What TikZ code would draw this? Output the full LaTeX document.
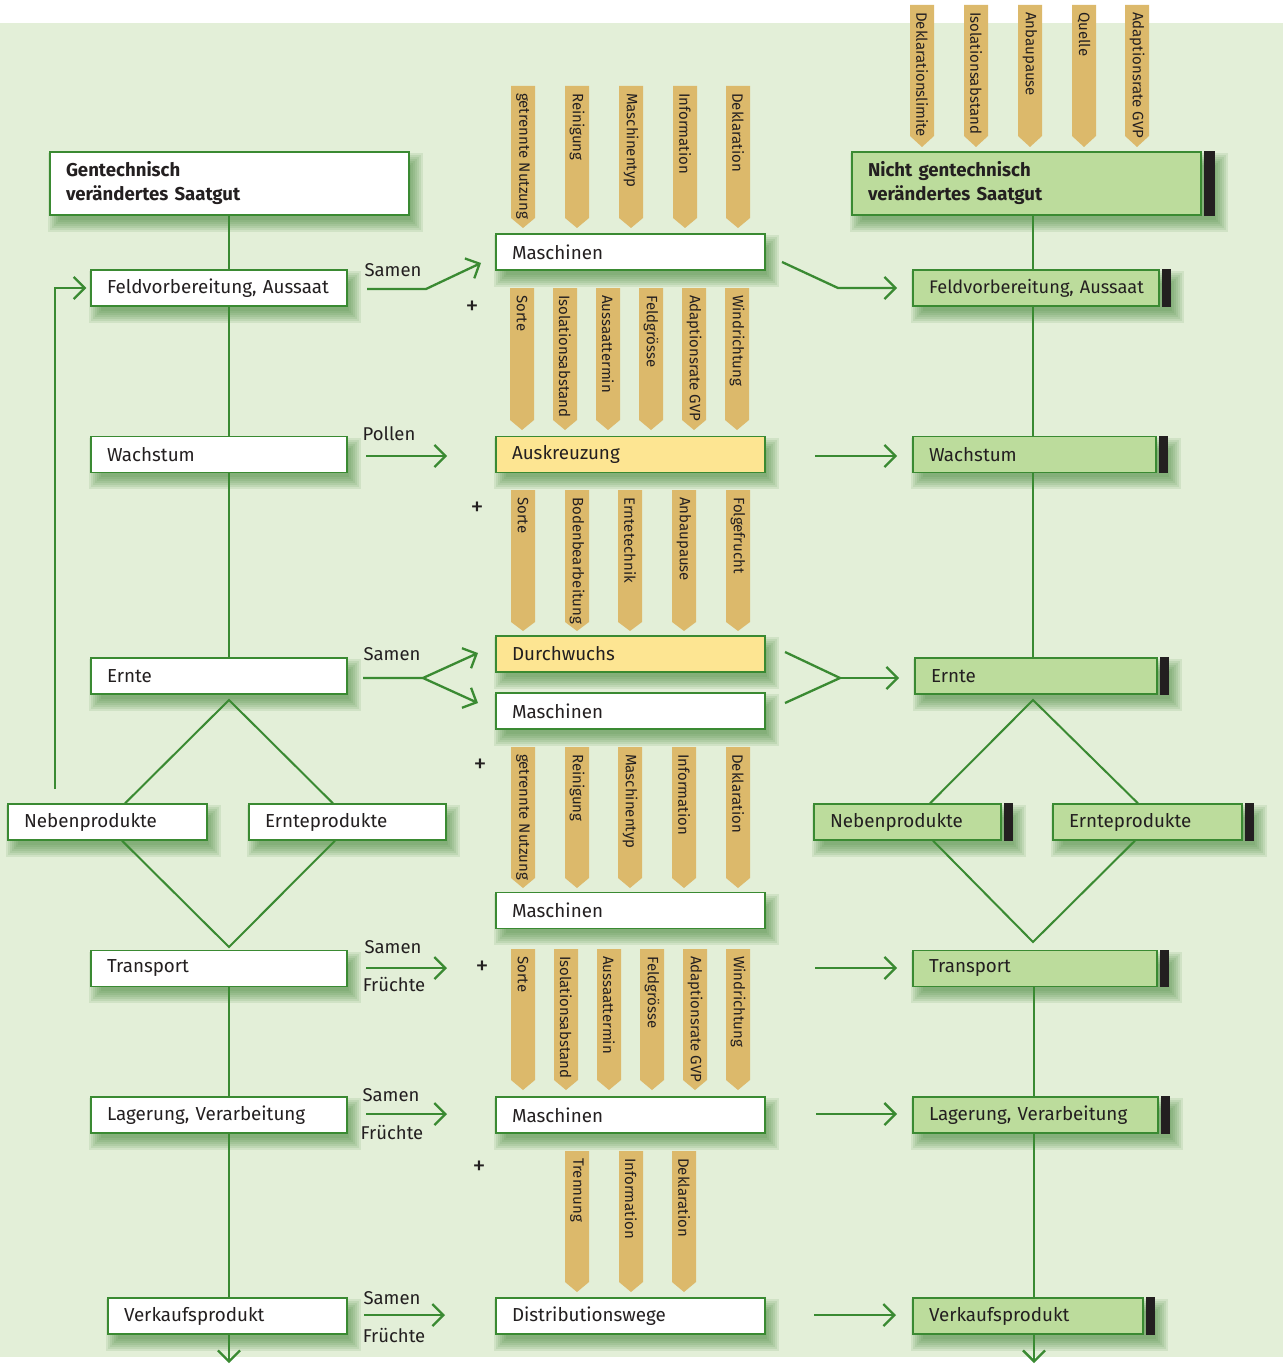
\documentclass[tikz,border=0pt]{standalone}
\usepackage{fontspec}
\setmainfont{Fira Sans}
\usetikzlibrary{arrows.meta}
\definecolor{bggreen}{HTML}{E3EFD8}
\definecolor{lgreen}{HTML}{3A8A32}
\definecolor{boxgreen}{HTML}{BCDC9C}
\definecolor{yel}{HTML}{FDE592}
\definecolor{gold}{HTML}{DCB96B}
\definecolor{ink}{HTML}{231F20}
\definecolor{shgreen}{HTML}{3C7F33}
\pgfdeclarelayer{bglayer}
\pgfdeclarelayer{shlayer}
\pgfsetlayers{bglayer,shlayer,main}
\newcommand\tagshape[6]{% name, x, top, body bottom, tip, text
  \fill[gold] (#2-12,#3) -- (#2+12,#3) -- (#2+12,#4) -- (#2,#5) -- (#2-12,#4) -- cycle;
  \node[tagtext] (#1) at (#2,#3+7) {#6};
}
\begin{document}
\begin{tikzpicture}[x=1pt,y=-1pt,
  font=\fontsize{18.5}{21}\selectfont,
  box/.style={draw=lgreen, line width=1.3pt, inner xsep=16pt, inner ysep=0pt,
    minimum height=36pt, text=ink, align=left, font=\fontsize{18.8}{21}\selectfont},
  bw/.style={minimum width=#1pt, text width=#1pt-32pt},
  wbox/.style={box, fill=white},
  gbox/.style={box, fill=boxgreen},
  ybox/.style={box, fill=yel},
  title/.style={font=\bfseries\fontsize{18.6}{24}\selectfont, minimum height=63pt},
  conn/.style={draw=lgreen, line width=2.3pt},
  arr/.style={conn, -{Straight Barb[length=11pt,width=22pt]}},
  lab/.style={text=ink, inner sep=0pt},
  plussign/.style={text=ink, inner sep=0pt, font=\fontsize{26}{26}\selectfont},
  tagtext/.style={rotate=-90, anchor=west, inner sep=0pt, text=ink,
    font=\fontsize{15}{16}\selectfont},
  bar/.style={fill=ink}
]
\useasboundingbox (0,0) rectangle (1283,1364);
\begin{pgfonlayer}{bglayer}
  \fill[white] (0,0) rectangle (1283,1364);
  \fill[bggreen] (0,23) rectangle (1283,1357);
\end{pgfonlayer}

% ---------------- left column
\node[wbox, bw=359, title] (gv) at (229.5,183.5) {Gentechnisch\\verändertes Saatgut};
\node[wbox, bw=256] (lf) at (219,288) {Feldvorbereitung, Aussaat};
\node[wbox, bw=256] (lw) at (219,454.5) {Wachstum};
\node[wbox, bw=256] (le) at (219,676) {Ernte};
\node[wbox, bw=199] (ln) at (107.5,822) {Nebenprodukte};
\node[wbox, bw=197] (lp) at (347.5,822) {Ernteprodukte};
\node[wbox, bw=256] (lt) at (219,968.5) {Transport};
\node[wbox, bw=256] (ll) at (219,1115) {Lagerung, Verarbeitung};
\node[wbox, bw=239] (lv) at (227.5,1316) {Verkaufsprodukt};

% ---------------- middle column
\node[wbox, bw=269] (m1) at (630.5,252) {Maschinen};
\node[ybox, bw=269] (au) at (630.5,454.5) {Auskreuzung};
\node[ybox, bw=269] (du) at (630.5,654) {Durchwuchs};
\node[wbox, bw=269] (m2) at (630.5,711) {Maschinen};
\node[wbox, bw=269] (m3) at (630.5,910.5) {Maschinen};
\node[wbox, bw=269] (m4) at (630.5,1115) {Maschinen};
\node[wbox, bw=269] (dw) at (630.5,1316) {Distributionswege};

% ---------------- right column
\node[gbox, bw=349, title] (rg) at (1026.5,183.5) {Nicht gentechnisch\\verändertes Saatgut};
\node[gbox, bw=246, font=\fontsize{18.2}{21}\selectfont] (rf) at (1036,288) {\mbox{Feldvorbereitung, Aussaat}};
\node[gbox, bw=243] (rw) at (1034.5,454.5) {Wachstum};
\node[gbox, bw=242] (re) at (1036,676) {Ernte};
\node[gbox, bw=187] (rn) at (907.5,822) {Nebenprodukte};
\node[gbox, bw=189] (rp) at (1147.5,822) {Ernteprodukte};
\node[gbox, bw=244] (rt) at (1035,968.5) {Transport};
\node[gbox, bw=245] (rl) at (1035.5,1115) {Lagerung, Verarbeitung};
\node[gbox, bw=230] (rv) at (1028,1316) {Verkaufsprodukt};

\fill[bar] ([xshift=2pt]rg.north east) rectangle ([xshift=13pt]rg.south east);
\foreach \n in {rf,rw,re,rn,rp,rt,rl,rv}{
  \fill[bar] ([xshift=2pt]\n.north east) rectangle ([xshift=11pt]\n.south east);
}

% ---------------- shadows
\begin{pgfonlayer}{shlayer}
\foreach \n/\ex in {gv/0,lf/0,lw/0,le/0,ln/0,lp/0,lt/0,ll/0,lv/0,m1/0,au/0,du/0,m2/0,m3/0,m4/0,dw/0,
                    rg/13,rf/11,rw/11,re/11,rn/11,rp/11,rt/11,rl/11,rv/11}{
  \foreach \e in {7,5,3,1,-1,-3,-5}{
    \fill[shgreen, opacity=0.11] ([shift={(6-\e,9-\e)}]\n.north west)
      rectangle ([shift={(6+\e+\ex,9+\e)}]\n.south east);
  }
}
\end{pgfonlayer}

% ---------------- tags
\foreach \x/\t in {922/Deklarationslimite,976/Isolationsabstand,1030/Anbaupause,1084/Quelle,1137/Adaptionsrate GVP}
  {\tagshape{ta\x}{\x}{5}{136}{147}{\t}}
\foreach \x/\t in {523/getrennte Nutzung,577/Reinigung,631/Maschinentyp,685/Information,738/Deklaration}
  {\tagshape{tb\x}{\x}{86}{218}{228}{\t}}
\foreach \x/\t in {522/Sorte,565/Isolationsabstand,608/Aussaattermin,651/Feldgrösse,694/Adaptionsrate GVP,737/Windrichtung}
  {\tagshape{tc\x}{\x}{288}{420}{430}{\t}}
\foreach \x/\t in {523/Sorte,577/Bodenbearbeitung,630/Erntetechnik,684/Anbaupause,738/Folgefrucht}
  {\tagshape{td\x}{\x}{490}{622}{631}{\t}}
\foreach \x/\t in {523/getrennte Nutzung,577/Reinigung,630/Maschinentyp,684/Information,738/Deklaration}
  {\tagshape{te\x}{\x}{747}{878}{888}{\t}}
\foreach \x/\t in {523/Sorte,566/Isolationsabstand,609/Aussaattermin,652/Feldgrösse,695/Adaptionsrate GVP,738/Windrichtung}
  {\tagshape{tf\x}{\x}{949}{1080}{1090}{\t}}
\foreach \x/\t in {577/Trennung,631/Information,684/Deklaration}
  {\tagshape{tg\x}{\x}{1151}{1282}{1292}{\t}}

% ---------------- plus signs
\node[plussign] (p1) at (472,308) {+};
\node[plussign] (p2) at (477,509) {+};
\node[plussign] (p3) at (480,766) {+};
\node[plussign] (p4) at (482,968) {+};
\node[plussign] (p5) at (479,1168) {+};

% ---------------- left vertical flow
\coordinate (lx) at (229,0);
\draw[conn] (gv.south -| lx) -- (lf.north -| lx);
\draw[conn] (lf.south -| lx) -- (lw.north -| lx);
\draw[conn] (lw.south -| lx) -- (le.north -| lx);
\coordinate (ldt) at (229,700);
\coordinate (ldb) at (229,947);
\draw[conn, line width=2pt] (ln.north -| 125,0) -- (ldt) -- (lp.north -| 333,0);
\draw[conn, line width=2pt] (ln.south -| 122,0) -- (ldb) -- (lp.south -| 335,0);
\draw[conn] (lt.south -| lx) -- (ll.north -| lx);
\draw[conn] (ll.south -| lx) -- (lv.north -| lx);
\coordinate (lend) at (229,1363);
\draw[arr] (lv.south -| lx) -- (lend);
\coordinate (fb) at (55,789);
\draw[arr, shorten >=4pt] (fb) |- (lf.west);

% ---------------- right vertical flow
\coordinate (rx) at (1033,0);
\coordinate (rx2) at (1034,0);
\draw[conn] (rg.south -| rx) -- (rf.north -| rx);
\draw[conn] (rf.south -| rx) -- (rw.north -| rx);
\draw[conn] (rw.south -| rx) -- (re.north -| rx);
\coordinate (rdt) at (1033,700);
\coordinate (rdb) at (1033,942);
\draw[conn, line width=2pt] (rn.north -| 930,0) -- (rdt) -- (rp.north -| 1138,0);
\draw[conn, line width=2pt] (rn.south -| 933,0) -- (rdb) -- (rp.south -| 1135,0);
\draw[conn] (rt.south -| rx2) -- (rl.north -| rx2);
\draw[conn] (rl.south -| rx2) -- (rv.north -| rx2);
\coordinate (rend) at (1034,1363);
\draw[arr] (rv.south -| rx2) -- (rend);

% ---------------- left to middle
\coordinate (a1s) at (367,289); \coordinate (a1b) at (426,289); \coordinate (a1e) at (481,263);
\draw[arr] (a1s) -- (a1b) -- (a1e);
\node[lab] (l1) at (393,270) {Samen};

\coordinate (a2s) at (366,456); \coordinate (a2e) at (447,456);
\draw[arr] (a2s) -- (a2e);
\node[lab] (l2) at (389,434) {Pollen};

\coordinate (a3s) at (363,678); \coordinate (a3b) at (423,678);
\coordinate (a3e) at (478,653); \coordinate (a3f) at (478,703);
\draw[arr] (a3s) -- (a3b) -- (a3e);
\draw[arr] (a3b) -- (a3f);
\node[lab] (l3) at (392,654) {Samen};

\coordinate (a4s) at (366,968); \coordinate (a4e) at (447,968);
\draw[arr] (a4s) -- (a4e);
\node[lab] (l4a) at (393,947) {Samen};
\node[lab] (l4b) at (394,984) {Früchte};

\coordinate (a5s) at (366,1114); \coordinate (a5e) at (447,1114);
\draw[arr] (a5s) -- (a5e);
\node[lab] (l5a) at (391,1095) {Samen};
\node[lab] (l5b) at (392,1132) {Früchte};

\coordinate (a6s) at (364,1315); \coordinate (a6e) at (445,1315);
\draw[arr] (a6s) -- (a6e);
\node[lab] (l6a) at (392,1298) {Samen};
\node[lab] (l6b) at (394,1335) {Früchte};

% ---------------- middle to right
\coordinate (b1s) at (782,262); \coordinate (b1b) at (838,288); \coordinate (b1e) at (897,288);
\draw[arr] (b1s) -- (b1b) -- (b1e);
\coordinate (b2s) at (815,456); \coordinate (b2e) at (897,456);
\draw[arr] (b2s) -- (b2e);
\coordinate (b3s) at (785,652); \coordinate (b3t) at (785,703);
\coordinate (b3b) at (840,678); \coordinate (b3e) at (899,678);
\draw[conn] (b3s) -- (b3b) -- (b3t);
\draw[arr] (b3b) -- (b3e);
\coordinate (b4s) at (815,968); \coordinate (b4e) at (897,968);
\draw[arr] (b4s) -- (b4e);
\coordinate (b5s) at (816,1114); \coordinate (b5e) at (897,1114);
\draw[arr] (b5s) -- (b5e);
\coordinate (b6s) at (814,1315); \coordinate (b6e) at (896,1315);
\draw[arr] (b6s) -- (b6e);
\end{tikzpicture}
\end{document}
